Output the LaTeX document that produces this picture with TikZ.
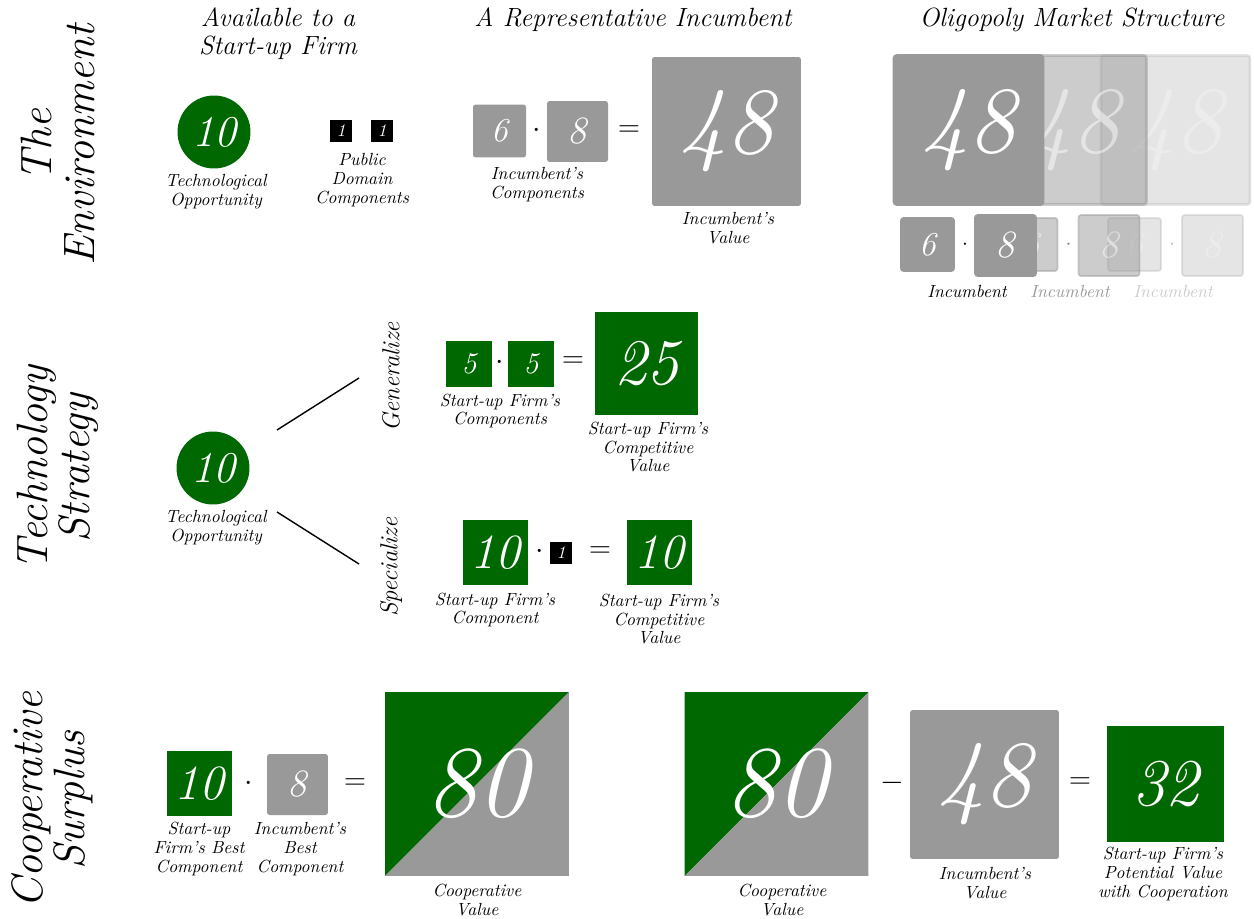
\documentclass[tikz,border=0pt]{standalone}
\usepackage{tikz}
\usepackage{xcolor}
\definecolor{startup}{RGB}{0,104,0}
\definecolor{incumb}{RGB}{153,153,153}

\begin{document}
\begin{tikzpicture}[x=0.02cm, y=-0.02cm,
    lbl/.style={font=\fontsize{10}{10.8}\selectfont\itshape, align=center, inner sep=0pt},
    head/.style={font=\fontsize{15}{16}\selectfont\itshape, align=center, inner sep=0pt},
    sect/.style={font=\fontsize{25}{24}\selectfont\itshape, align=center, rotate=90, inner sep=0pt},
    strat/.style={font=\fontsize{14}{14}\selectfont\itshape, rotate=90, inner sep=0pt},
    num/.style={font=\fontsize{#1}{#1}\selectfont\itshape},
    greenbox/.style={fill=startup, text=white, minimum size=#1, inner sep=0pt},
    greybox/.style={fill=incumb, rounded corners=1.5pt, text=white, minimum size=#1, inner sep=0pt},
    onebox/.style={fill=black, text=white, minimum size=0.44cm, inner sep=0pt, num=10},
    opp/.style={circle, fill=startup, text=white, minimum size=1.46cm, inner sep=0pt, num=25},
    coopbox/.style={minimum size=3.68cm, inner sep=0pt, text=white, num=58,
        path picture={
        \fill[startup] (path picture bounding box.south west) -- (path picture bounding box.north west) -- (path picture bounding box.north east) -- cycle;
        \fill[incumb] (path picture bounding box.south west) -- (path picture bounding box.south east) -- (path picture bounding box.north east) -- cycle;}},
    op/.style={inner sep=0pt, font=\fontsize{17}{17}\selectfont}]
\useasboundingbox (0,0) rectangle (1254,919);

% --- the environment
\node[sect] (envtitle) at (58,145) {The\\Environment};
\node[head] (hstart) at (278,34) {Available to a\\Start-up Firm};
\node[head] (hinc) at (633,20) {A Representative Incumbent};
\node[head] (holig) at (1072,20) {Oligopoly Market Structure};

\node[opp] (opp1) at (214,132) {10};
\node[lbl] (opp1lbl) at (216,192) {Technological\\Opportunity};
\node[onebox] (pub1) at (341,131) {1};
\node[onebox] (pub2) at (382,131) {1};
\node[lbl] (publbl) at (362,180) {Public\\Domain\\Components};

\node[greybox=1.06cm, num=19] (inc6) at (499.5,131) {6};
\node[op] (incdot) at (537,131) {$\cdot$};
\node[greybox=1.22cm, num=22] (inc8) at (577.5,131.5) {8};
\node[op] (inceq) at (629,131) {$=$};
\node[greybox=2.98cm, num=54] (inc48) at (726.5,131.5) {48};
\node[lbl] (inccomplbl) at (537,185) {Incumbent's\\Components};
\node[lbl] (incvallbl) at (728,228) {Incumbent's\\Value};

% oligopoly: three incumbents, back to front
\foreach \k/\op/\col in {2/0.25/black!20, 1/0.5/black!40, 0/1/black}{
    \begin{scope}[opacity=\op, xshift=\k*103.5*0.02cm]
    \node[greybox=2.98cm, num=54, draw=incumb, line width=1.5pt] (olig\k) at (968.5,130) {48};
    \node[greybox=1.06cm, num=19, draw=incumb, line width=1pt] (olig6\k) at (927.5,244.5) {6};
    \node[op, font=\fontsize{13}{13}\selectfont] (oligdot\k) at (965,245) {$\cdot$};
    \node[greybox=1.22cm, num=22, draw=incumb, line width=1pt] (olig8\k) at (1005.5,245.5) {8};
    \end{scope}
    \node[lbl, text=\col] (oliglbl\k) at (967+\k*103,291) {Incumbent};
}

% --- technology strategy
\node[sect] (stratitle) at (58,468) {Technology\\Strategy};
\node[opp] (opp2) at (213,468) {10};
\node[lbl] (opp2lbl) at (216,528) {Technological\\Opportunity};
\coordinate (gfrom) at (277,430);
\coordinate (gto) at (359,378);
\coordinate (sfrom) at (277,512);
\coordinate (sto) at (359,564);
\draw[thick] (gfrom) -- (gto);
\draw[thick] (sfrom) -- (sto);
\node[strat] (gen) at (391,377) {Generalize};
\node[strat] (spec) at (391,567) {Specialize};

\node[greenbox=0.92cm, num=17] (gen5a) at (469,364) {5};
\node[op] (gendot) at (500,363) {$\cdot$};
\node[greenbox=0.92cm, num=17] (gen5b) at (531,364) {5};
\node[op] (geneq) at (573,362) {$=$};
\node[greenbox=2.06cm, num=37] (gen25) at (646.5,363.5) {25};
\node[lbl] (gencomplbl) at (500,411) {Start-up Firm's\\Components};
\node[lbl] (genvallbl) at (648,447) {Start-up Firm's\\Competitive\\Value};

\node[greenbox=1.3cm, num=28] (spec10) at (495.5,552.5) {10};
\node[op] (specdot) at (540,552) {$\cdot$};
\node[onebox] (spec1) at (561,553) {1};
\node[op] (speceq) at (600,552) {$=$};
\node[greenbox=1.3cm, num=28] (spec10b) at (659.5,552.5) {10};
\node[lbl] (speccomplbl) at (495,610) {Start-up Firm's\\Component};
\node[lbl] (specvallbl) at (659,619) {Start-up Firm's\\Competitive\\Value};

% --- cooperative surplus
\node[sect] (coopttitle) at (52,800) {Cooperative\\Surplus};
\node[greenbox=1.3cm, num=28] (best10) at (199.5,783.5) {10};
\node[op] (bestdot) at (249,784) {$\cdot$};
\node[greybox=1.22cm, num=22] (best8) at (297.5,784.5) {8};
\node[op] (besteq) at (355,784) {$=$};
\node[coopbox] (coop1) at (477,784) {80};
\node[lbl] (best10lbl) at (199,849) {Start-up\\Firm's Best\\Component};
\node[lbl] (best8lbl) at (300,849) {Incumbent's\\Best\\Component};
\node[lbl] (coop1lbl) at (477,900) {Cooperative\\Value};

\node[coopbox] (coop2) at (776.5,784) {80};
\node[op] (coopminus) at (892,783) {$-$};
\node[greybox=2.98cm, num=54] (coop48) at (984.5,784.5) {48};
\node[op] (coopeq) at (1080,783) {$=$};
\node[greenbox=2.34cm, num=38] (coop32) at (1165.5,784) {32};
\node[lbl] (coop2lbl) at (782,900) {Cooperative\\Value};
\node[lbl] (coop48lbl) at (985,883) {Incumbent's\\Value};
\node[lbl] (coop32lbl) at (1163,874) {Start-up Firm's\\Potential Value\\with Cooperation};
\end{tikzpicture}
\end{document}
